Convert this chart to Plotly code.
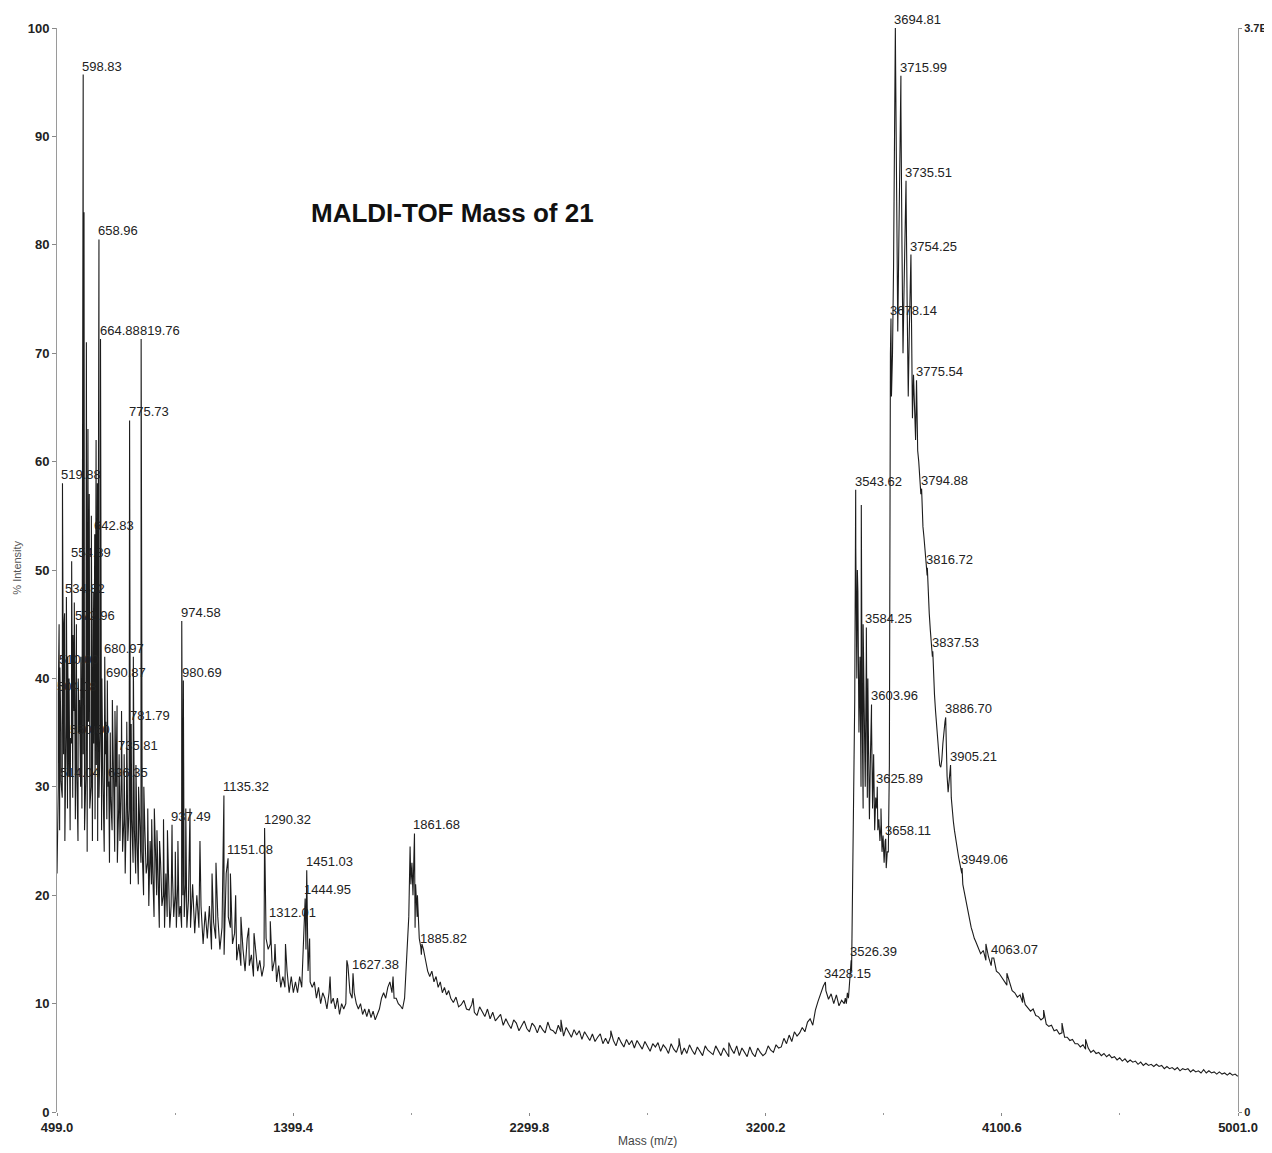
import plotly.graph_objects as go

# ---------------- DATA ----------------
# Baseline segments: (start m/z, step) + hand-read intensities (% of 3.7E+3)
seg_a_start, seg_a_step = 499.0, 5.0
seg_a_int = [22, 30, 26, 35, 29, 33, 25, 36, 28, 31,
             26, 34, 29, 37, 27, 32, 25, 35, 30, 28,
             33, 26, 31, 24, 36, 28, 30, 25, 34, 27,
             32, 25, 29, 35, 26, 31, 24, 33, 27, 30,
             23, 29, 26, 32, 24, 30, 23, 28, 25, 31,
             24, 27, 22, 29, 25, 28, 21, 27, 23, 26,
             22, 25, 21, 27, 23, 24, 20, 26, 22, 23,
             19, 25, 21, 22, 18, 24, 20, 21, 17, 23,
             19, 20, 17, 22, 18, 21, 17, 19, 22, 18,
             20, 17, 21, 18, 19, 17, 20, 18, 21, 17]

seg_b_start, seg_b_step = 1000.0, 8.0
seg_b_int = [19.5, 17, 21, 16.5, 20, 17, 19, 15.5, 18.5, 16, 19, 15, 17.5,
             16, 18, 15, 17, 14.5, 22, 18, 17, 15.5, 16.5, 14, 15.5, 13.5,
             15, 13, 16, 13.5, 14.5, 12.5, 15, 13, 14, 12.5, 13.5, 16, 15,
             15.5, 13, 14, 12, 13.5, 11.5, 12.5, 11.5, 13, 11, 12.5, 11, 12,
             11, 12.5, 11.5, 16, 15, 13, 12, 11.5, 12, 10.5, 11.5, 10, 11,
             10.5, 9.5, 11, 10, 10.5, 9.5, 10.5, 9, 10, 9.5, 10, 13.5, 11,
             10.5, 11, 10, 9.5, 10, 9, 9.5, 8.8, 9.5, 8.7, 9.3, 8.5, 9,
             9.5, 10.5, 11, 10.5, 11.5, 12, 11, 10.5, 10.5, 10, 9.8, 9.5, 10.5,
             14, 18, 21, 20, 17, 18, 16, 14.5, 15, 14, 13, 12.5, 13,
             12, 12.5, 11.5, 12, 11, 11.5, 10.8, 11.2, 10.5]

seg_c_start, seg_c_step = 2010.0, 10.0
seg_c_int = [10.1, 10.6, 9.7, 9.9, 10.3, 9.5, 9.4, 9.9, 9.2,
             8.9, 9.7, 9.3, 8.8, 9.5, 8.6, 9.2, 8.4, 8.7, 9.0,
             8.0, 8.6, 8.1, 7.7, 8.5, 8.2, 7.5, 8.0, 8.4, 7.7,
             7.4, 8.2, 7.9, 7.3, 8.0, 7.6, 7.3, 8.3, 7.6, 7.5,
             7.2, 8.0, 7.4, 7.0, 7.8, 7.3, 6.9, 7.6, 7.1, 7.5,
             6.7, 7.4, 7.0, 6.6, 7.2, 6.5, 6.9, 7.2, 6.3, 6.8,
             6.3, 7.0, 6.6, 6.1, 6.9, 6.4, 6.0, 6.7, 6.2, 6.6,
             5.9, 6.6, 6.2, 5.8, 6.5, 6.0, 5.6, 6.3, 6.0, 6.4,
             5.6, 6.2, 5.9, 5.4, 6.3, 5.8, 5.5, 6.2, 5.3, 5.9,
             5.4, 6.2, 5.7, 5.3, 6.0, 5.6, 5.2, 6.1, 5.7, 5.5,
             5.3, 6.1, 5.6, 5.2, 5.9, 5.5, 5.1, 5.8, 5.4, 6.1,
             5.2, 5.9, 5.5, 5.1, 6.0, 5.4, 5.1, 5.9, 5.5, 5.2,
             5.4, 6.1, 5.7, 5.5, 6.2, 5.9, 6.0, 6.8, 6.3, 7.1,
             6.5, 7.4, 7.0, 7.3, 7.8, 7.4, 8.3, 8.6, 8.0, 9.4,
             10.2, 11.0, 11.6, 11.2, 10.4, 10.9, 10.0, 10.8, 9.8, 10.3]

seg_d_start, seg_d_step = 3500.0, 4.0
seg_d_int = [10, 10.5, 10, 11, 10.5, 12, 13.5, 13, 20, 30,
             38, 52, 40, 48, 35, 42, 30, 38, 28, 36,
             30, 42, 29, 35, 27, 33, 36, 28, 31, 26,
             29, 28, 26, 27, 25, 26.5, 24, 25.5, 23, 25,
             22.5, 24, 24, 32, 70, 66, 70, 78, 92, 96,
             84, 72, 80, 90, 93, 80, 70, 76, 82, 84,
             74, 66, 72, 77, 74, 64, 68, 65, 62, 66,
             61, 60, 58.5, 57, 56, 54, 53, 52, 50.5, 49.5,
             47.5, 46, 44.5, 43, 42, 40, 38.5, 37, 35.5, 34,
             33, 32, 31.8, 32.5, 34, 35.5, 36, 34, 31, 29.5,
             30.5, 31.5, 29, 27.5, 26.8, 26, 25.3, 24.5, 24, 23.5,
             23, 22.5, 22, 21, 20.5, 20, 19.3, 18.8, 18.3, 17.8,
             17.4, 17, 16.7, 16.3, 16, 15.8]

seg_e_start, seg_e_step = 4010.0, 10.0
seg_e_int = [15.2, 14.6, 14.9, 14.0, 14.3, 13.5, 14.2, 13.0, 12.8, 12.4,
             12.0, 11.7, 11.9, 11.2, 11.0, 10.6, 10.8, 10.1, 9.9, 9.6,
             9.3, 9.5, 8.9, 8.8, 8.5, 8.7, 8.1, 7.9, 8.0, 7.5,
             7.6, 7.2, 7.3, 6.9, 6.9, 6.6, 6.7, 6.3, 6.3, 6.0,
             6.2, 5.8, 5.9, 5.5, 5.7, 5.4, 5.5, 5.2, 5.4, 5.1,
             5.3, 5.0, 5.1, 4.8, 5.0, 4.7, 4.9, 4.6, 4.8, 4.6,
             4.7, 4.4, 4.6, 4.3, 4.5, 4.3, 4.4, 4.2, 4.4, 4.2,
             4.3, 4.0, 4.2, 4.0, 4.1, 3.9, 4.1, 3.8, 4.0, 3.9,
             4.0, 3.7, 3.9, 3.7, 3.8, 3.6, 3.9, 3.6, 3.8, 3.6,
             3.7, 3.5, 3.7, 3.5, 3.6, 3.4, 3.6, 3.4, 3.5, 3.3]

# Labelled peaks
peak_mz = [504.08, 510.00, 514.04, 519.88, 534.82, 550.60, 554.89, 572.96,
           598.83, 642.83, 658.96, 664.88, 680.97, 690.87, 696.35, 735.81,
           775.73, 781.79, 819.76, 937.49, 974.58, 980.69, 1135.32, 1151.08,
           1290.32, 1312.01, 1444.95, 1451.03, 1627.38, 1861.68, 1885.82,
           3428.15, 3526.39, 3543.62, 3584.25, 3603.96, 3625.89, 3658.11,
           3678.14, 3694.81, 3715.99, 3735.51, 3754.25, 3775.54, 3794.88,
           3816.72, 3837.53, 3886.70, 3905.21, 3949.06, 4063.07]
peak_int = [38.5, 41.0, 30.5, 58.0, 47.5, 34.5, 50.8, 45.0,
            95.7, 53.3, 80.5, 71.3, 42.0, 39.8, 30.5, 33.0,
            63.8, 35.8, 71.3, 26.5, 45.3, 39.8, 29.2, 23.4,
            26.2, 17.6, 19.7, 22.3, 12.8, 25.7, 15.2,
            12.0, 14.0, 57.4, 44.7, 37.6, 30.0, 25.2,
            73.2, 100.0, 95.6, 85.9, 79.1, 67.5, 57.5,
            50.2, 42.5, 36.4, 32.0, 22.5, 14.2]
peak_label = ["504.08", "510.00", "514.04", "519.88", "534.82", "550.60", "554.89", "572.96",
              "598.83", "642.83", "658.96", "664.88", "680.97", "690.87", "696.35", "735.81",
              "775.73", "781.79", "819.76", "937.49", "974.58", "980.69", "1135.32", "1151.08",
              "1290.32", "1312.01", "1444.95", "1451.03", "1627.38", "1861.68", "1885.82",
              "3428.15", "3526.39", "3543.62", "3584.25", "3603.96", "3625.89", "3658.11",
              "3678.14", "3694.81", "3715.99", "3735.51", "3754.25", "3775.54", "3794.88",
              "3816.72", "3837.53", "3886.70", "3905.21", "3949.06", "4063.07"]

# Unlabelled spikes
extra_mz = [507, 524, 528, 540, 545, 560, 565, 580, 585, 590, 602, 611, 617, 622,
            630, 637, 648, 653, 670, 685, 702, 710, 720, 728, 745, 755, 765, 790,
            800, 810, 830, 845, 860, 870, 880, 890, 905, 920, 950, 960, 990,
            1006, 1044, 1090, 1105, 1160, 1180, 1200, 1230, 1250, 1330, 1370, 1462,
            1540, 1604, 1780, 1845, 1852, 1866, 1873, 1890,
            2085, 2420, 2610, 2870, 3060,
            3550, 3565, 3572, 3590, 3612, 3640,
            4040, 4120, 4180, 4260, 4330, 4420]
extra_int = [45, 44, 46, 42, 40, 44, 47, 40, 38, 42, 83, 71, 63, 57,
             55, 48, 62, 58, 40, 36, 35, 38, 37, 37.5, 37, 33, 36, 42,
             32, 30, 30, 28, 27, 28, 26, 25, 27, 26, 24, 25, 28,
             28, 25, 22, 23, 22, 20, 18, 17, 16.5, 15.5, 15.5, 16,
             12.5, 14, 12.5, 24.5, 23, 21, 20, 15.5,
             10.5, 8.5, 7.5, 6.8, 6.4,
             50, 56, 45, 40, 33, 28,
             15.5, 12.8, 11, 9.4, 8.2, 6.7]

x_tickvals = [499.0, 1399.4, 2299.8, 3200.2, 4100.6, 5001.0]
x_ticktext = ["499.0", "1399.4", "2299.8", "3200.2", "4100.6", "5001.0"]
y_tickvals = [0, 10, 20, 30, 40, 50, 60, 70, 80, 90, 100]

# ---------------- BUILD SPECTRUM ----------------
pts = []
for start, step, vals in [(seg_a_start, seg_a_step, seg_a_int),
                          (seg_b_start, seg_b_step, seg_b_int),
                          (seg_c_start, seg_c_step, seg_c_int),
                          (seg_d_start, seg_d_step, seg_d_int),
                          (seg_e_start, seg_e_step, seg_e_int)]:
    pts += [(start + step * i, v) for i, v in enumerate(vals)]
pts += list(zip(peak_mz, peak_int))
pts += list(zip(extra_mz, extra_int))
pts.sort(key=lambda p: p[0])
mz = [p[0] for p in pts]
inten = [p[1] for p in pts]

FONT = "Liberation Sans, Arial, Helvetica, sans-serif"

fig = go.Figure()
fig.add_trace(go.Scatter(x=mz, y=inten, mode="lines",
                         line=dict(color="#1c1c1c", width=1.1),
                         showlegend=False, hoverinfo="x+y"))
# invisible trace to carry the right-hand axis
fig.add_trace(go.Scatter(x=[499.0], y=[0], yaxis="y2", mode="markers",
                         marker=dict(opacity=0), showlegend=False, hoverinfo="skip"))

annotations = []
for m, v, t in zip(peak_mz, peak_int, peak_label):
    annotations.append(dict(x=m, y=v, text=t, xref="x", yref="y",
                            xanchor="left", yanchor="bottom", showarrow=False,
                            font=dict(family=FONT, size=13, color="#222222"),
                            borderpad=0, xshift=-2, yshift=0))

annotations.append(dict(x=0.335, y=0.829, xref="paper", yref="paper",
                        text="<b>MALDI-TOF Mass of 21</b>", showarrow=False,
                        xanchor="center", yanchor="middle",
                        font=dict(family=FONT, size=26, color="#111111")))
annotations.append(dict(x=0.5, y=-0.027, xref="paper", yref="paper",
                        text="Mass (m/z)", showarrow=False,
                        xanchor="center", yanchor="middle",
                        font=dict(family=FONT, size=12, color="#444444")))
annotations.append(dict(x=-0.034, y=0.502, xref="paper", yref="paper",
                        text="% Intensity", showarrow=False, textangle=-90,
                        xanchor="center", yanchor="middle",
                        font=dict(family=FONT, size=11, color="#555555")))

TICKFONT = dict(family=FONT, size=13, color="#222222", weight="bold")
RIGHTFONT = dict(family=FONT, size=11, color="#222222", weight="bold")

# the page body has an 8 px margin: plot area is placed at x 57..1238, y 28..1112
fig.update_layout(
    width=1264, height=1145,
    margin=dict(l=49, r=34, t=20, b=41, autoexpand=False),
    paper_bgcolor="white", plot_bgcolor="white",
    showlegend=False,
    annotations=annotations,
    xaxis=dict(range=[499.0, 5001.0], tickvals=x_tickvals, ticktext=x_ticktext,
               showgrid=False, zeroline=False, showline=False, automargin=False,
               ticks="outside", ticklen=3, tickcolor="#888888",
               minor=dict(tickvals=[949.2, 1849.6, 2750.0, 3650.4, 4550.8],
                          ticks="outside", ticklen=2, tickcolor="#999999"),
               tickfont=TICKFONT),
    yaxis=dict(range=[0, 100], tickvals=y_tickvals, automargin=False,
               showgrid=False, zeroline=False, showline=True,
               linecolor="#9a9a9a", linewidth=1,
               ticks="outside", ticklen=4, tickcolor="#888888",
               tickfont=TICKFONT),
    yaxis2=dict(range=[0, 100], overlaying="y", side="right", automargin=False,
                tickvals=[0, 100], ticktext=["0", "3.7E"],
                showgrid=False, zeroline=False, showline=True,
                linecolor="#9a9a9a", linewidth=1,
                ticks="outside", ticklen=3, tickcolor="#888888",
                tickfont=RIGHTFONT),
)

fig.write_html("out.html")
